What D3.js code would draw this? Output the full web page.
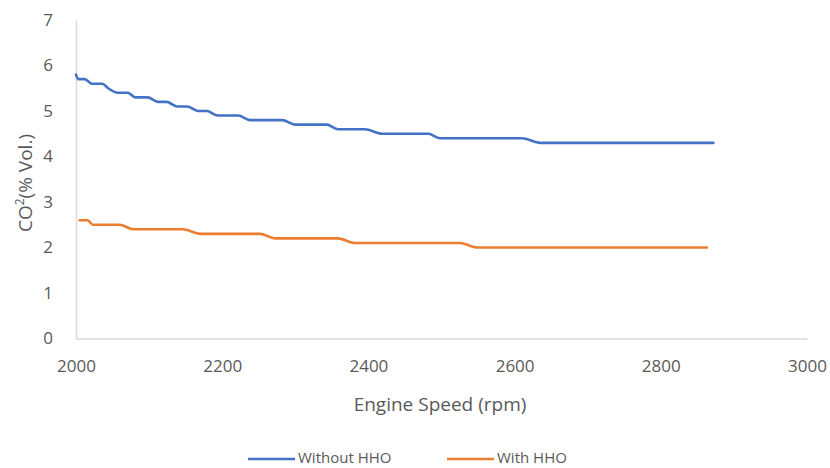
<!DOCTYPE html>
<html><head><meta charset="utf-8">
<script src="https://cdn.jsdelivr.net/npm/d3@7"></script>
<style>body{margin:0;background:#fff}text{font-family:"Open Sans",sans-serif;fill:#595959}</style>
</head><body><svg id="c" width="830" height="468"></svg>
<script>
const xTicks = [2000, 2200, 2400, 2600, 2800, 3000];
const yTicks = [0, 1, 2, 3, 4, 5, 6, 7];
const withoutRpm = [2000, 2003, 2012, 2022, 2036, 2044, 2057, 2071, 2081, 2098, 2112, 2124, 2138, 2152, 2167, 2179, 2194, 2222, 2238, 2282, 2300, 2343, 2358, 2395, 2419, 2482, 2498, 2610, 2635, 2872];
const withoutVal = [5.8, 5.7, 5.7, 5.6, 5.6, 5.5, 5.4, 5.4, 5.3, 5.3, 5.2, 5.2, 5.1, 5.1, 5.0, 5.0, 4.9, 4.9, 4.8, 4.8, 4.7, 4.7, 4.6, 4.6, 4.5, 4.5, 4.4, 4.4, 4.3, 4.3];
const withRpm = [2005, 2016, 2023, 2060, 2078, 2146, 2170, 2252, 2272, 2358, 2382, 2525, 2549, 2863];
const withVal = [2.6, 2.6, 2.5, 2.5, 2.4, 2.4, 2.3, 2.3, 2.2, 2.2, 2.1, 2.1, 2.0, 2.0];
const seriesNames = ["Without HHO", "With HHO"];
const colors = ["#4472C4", "#ED7D31"];

const svg = d3.select("#c");
const x = d3.scaleLinear().domain([2000, 3000]).range([76, 807]);
const y = d3.scaleLinear().domain([0, 7]).range([338.5, 20]);

// axes
const xa = svg.append("g").attr("transform", "translate(0,338.5)")
  .call(d3.axisBottom(x).tickValues(xTicks).tickFormat(d3.format("d")).tickSize(0).tickPadding(21));
xa.select(".domain").attr("stroke", "#d9d9d9").attr("stroke-width", 1.5);
xa.selectAll("text").style("font-size", "17px").attr("fill", "#595959");
const ya = svg.append("g").attr("transform", "translate(76,0)")
  .call(d3.axisLeft(y).tickValues(yTicks).tickFormat(d3.format("d")).tickSize(0).tickPadding(23));
ya.select(".domain").attr("stroke", "#d9d9d9").attr("stroke-width", 1.5);
ya.selectAll("text").style("font-size", "17px").attr("fill", "#595959");

const line = d3.line().x(d => x(d[0])).y(d => y(d[1])).curve(d3.curveMonotoneX);
const data = [withoutRpm.map((r, i) => [r, withoutVal[i]]), withRpm.map((r, i) => [r, withVal[i]])];
data.forEach((d, i) => {
  svg.append("path").datum(d).attr("d", line).attr("fill", "none")
    .attr("stroke", colors[i]).attr("stroke-width", 2.6).attr("stroke-linejoin", "round").attr("stroke-linecap", "round");
});

// axis titles
svg.append("text").attr("x", 440).attr("y", 411).attr("text-anchor", "middle")
  .style("font-size", "19px").text("Engine Speed (rpm)");
const yt = svg.append("text").attr("transform", "translate(32,183) rotate(-90)")
  .attr("text-anchor", "middle").style("font-size", "19px");
yt.append("tspan").text("CO");
yt.append("tspan").attr("dy", -8).style("font-size", "12px").text("2");
yt.append("tspan").attr("dy", 8).text("(% Vol.)");

// legend
const leg = [{x: 248, tx: 298}, {x: 447, tx: 497}];
leg.forEach((l, i) => {
  svg.append("line").attr("x1", l.x).attr("x2", l.x + 47).attr("y1", 459).attr("y2", 459)
    .attr("stroke", colors[i]).attr("stroke-width", 2.6);
  svg.append("text").attr("x", l.tx).attr("y", 463).style("font-size", "15px").text(seriesNames[i]);
});
</script></body></html>
